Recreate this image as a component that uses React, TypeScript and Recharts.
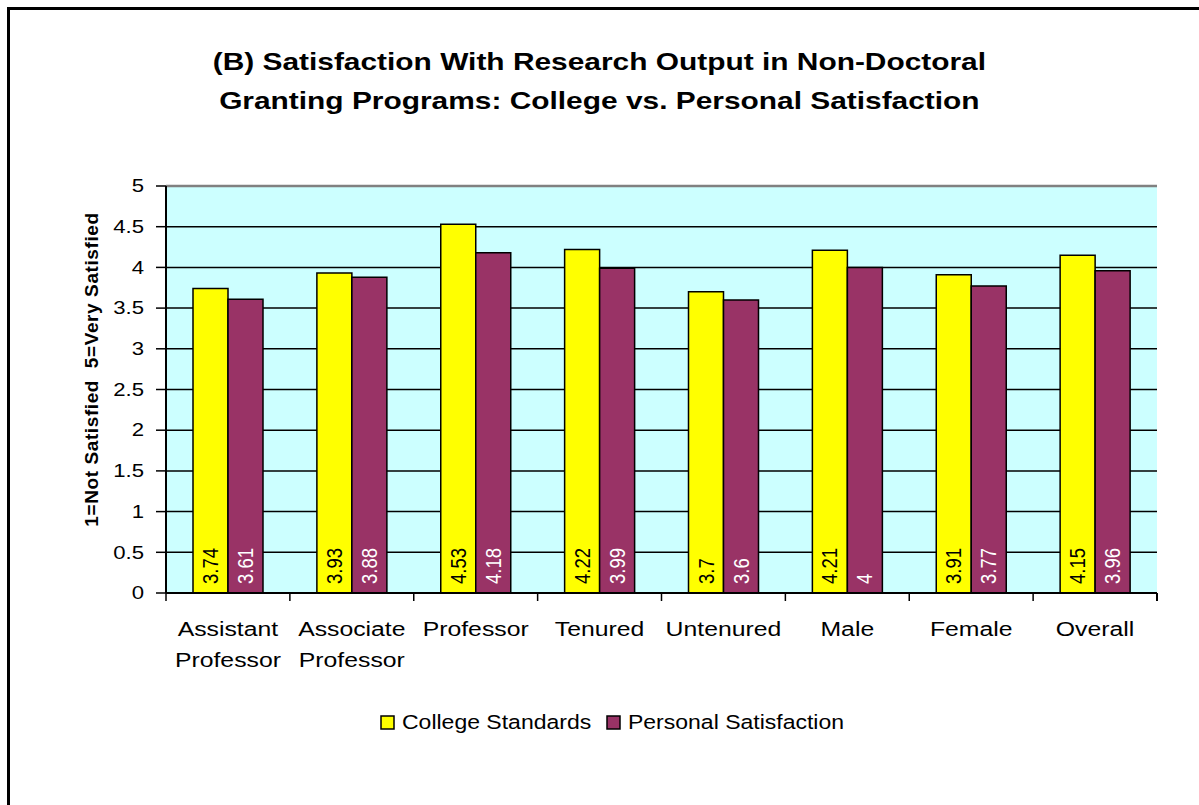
import React from 'react';
import { BarChart, Bar, XAxis, YAxis, CartesianGrid, Legend, LabelList, ReferenceLine } from 'recharts';

const categories = [
  'Assistant Professor',
  'Associate Professor',
  'Professor',
  'Tenured',
  'Untenured',
  'Male',
  'Female',
  'Overall',
];
const collegeStandards = [3.74, 3.93, 4.53, 4.22, 3.7, 4.21, 3.91, 4.15];
const personalSatisfaction = [3.61, 3.88, 4.18, 3.99, 3.6, 4, 3.77, 3.96];
const yTicks = [0, 0.5, 1, 1.5, 2, 2.5, 3, 3.5, 4, 4.5, 5];
const seriesNames = ['College Standards', 'Personal Satisfaction'];
const titleLines = [
  '(B) Satisfaction With Research Output in Non-Doctoral',
  'Granting Programs: College vs. Personal Satisfaction',
];
const yAxisTitle = '1=Not Satisfied\u00a0\u00a05=Very Satisfied';

const data = categories.map((c, i) => ({
  category: c,
  college: collegeStandards[i],
  personal: personalSatisfaction[i],
}));

const FONT = '"Liberation Sans", Arial, sans-serif';
const YELLOW = '#FFFF00';
const MAROON = '#993366';
const SX = 1.2;

const YTick = (props: any) => {
  const { x, y, payload } = props;
  return (
    <text
      transform={`translate(${x},${y}) scale(1.23,1)`}
      textAnchor="end"
      dominantBaseline="central"
      fontFamily={FONT}
      fontSize={18}
      fill="#000"
    >
      {String(payload.value)}
    </text>
  );
};

const XTick = (props: any) => {
  const { x, y, payload, index, width, visibleTicksCount } = props;
  const count = visibleTicksCount || categories.length;
  const half =
    payload && typeof payload.offset === 'number' && payload.offset > 0
      ? payload.offset
      : Number(width) / count / 2;
  const lines = String(payload.value).split(' ');
  const isLast = index === count - 1;
  return (
    <g>
      <line x1={x - half} x2={x - half} y1={y} y2={y + 8} stroke="#000" strokeWidth={1.5} />
      {isLast && <line x1={x + half} x2={x + half} y1={y} y2={y + 8} stroke="#000" strokeWidth={2} />}
      {lines.map((ln, i) => (
        <text
          key={i}
          transform={`translate(${x},${y + 43 + i * 31}) scale(1.18,1)`}
          textAnchor="middle"
          fontFamily={FONT}
          fontSize={21}
          fill="#000"
        >
          {ln}
        </text>
      ))}
    </g>
  );
};

const makeValueLabel = (color: string) => (props: any) => {
  const { x, y, width, height, value } = props;
  const cx = Number(x) + Number(width) / 2;
  const by = Number(y) + Number(height) - 9;
  return (
    <text
      transform={`translate(${cx},${by}) scale(${SX},1) rotate(-90)`}
      textAnchor="start"
      dominantBaseline="central"
      fontFamily={FONT}
      fontSize={18.5}
      fill={color}
    >
      {String(value)}
    </text>
  );
};

const YLabel = (props: any) => {
  const vb = props.viewBox || { x: 106, y: 186, width: 60, height: 407 };
  const cx = 91;
  const cy = vb.y + vb.height / 2 - 20;
  return (
    <text
      transform={`translate(${cx},${cy}) rotate(-90)`}
      textAnchor="middle"
      dominantBaseline="central"
      fontFamily={FONT}
      fontWeight="bold"
      fontSize={19}
      letterSpacing={0.6}
      fill="#000"
    >
      {yAxisTitle}
    </text>
  );
};

const LegendContent = () => {
  const items = [
    { name: seriesNames[0], color: YELLOW, rx: 381, tx: 402 },
    { name: seriesNames[1], color: MAROON, rx: 607, tx: 628 },
  ];
  return (
    <svg width={1199} height={34} style={{ display: 'block' }}>
      {items.map((it) => (
        <g key={it.name}>
          <rect x={it.rx} y={11} width={13} height={13} fill={it.color} stroke="#000" strokeWidth={1.5} />
          <text
            transform={`translate(${it.tx},24) scale(1.18,1)`}
            fontFamily={FONT}
            fontSize={19.5}
            fill="#000"
          >
            {it.name}
          </text>
        </g>
      ))}
    </svg>
  );
};

export default function App() {
  return (
    <div
      style={{
        position: 'absolute',
        left: 0,
        top: 0,
        width: 1199,
        height: 805,
        overflow: 'hidden',
        background: '#fff',
        fontFamily: FONT,
      }}
    >
      <BarChart
        width={1199}
        height={805}
        data={data}
        margin={{ top: 186, right: 42, left: 106, bottom: 182 }}
        barGap={0}
        barSize={35}
      >
        <CartesianGrid vertical={false} stroke="#000" strokeWidth={1.5} fill="#CCFFFF" fillOpacity={1} />
        <XAxis
          xAxisId="edge"
          type="number"
          domain={[0, categories.length]}
          allowDataOverflow
          hide
        />
        <XAxis
          dataKey="category"
          tickLine={false}
          tickSize={0}
          tickMargin={0}
          axisLine={{ stroke: '#000', strokeWidth: 2 }}
          height={30}
          interval={0}
          tick={<XTick />}
        />
        <YAxis
          domain={[0, 5]}
          ticks={yTicks}
          interval={0}
          width={60}
          tickSize={10}
          tickMargin={12}
          axisLine={{ stroke: '#000', strokeWidth: 2 }}
          tickLine={{ stroke: '#000', strokeWidth: 1.5 }}
          tick={<YTick />}
          label={<YLabel />}
        />
        <ReferenceLine y={5} stroke="#808080" strokeWidth={2.5} />
        <ReferenceLine x={categories.length} xAxisId="edge" stroke="#808080" strokeWidth={2.5} />
        <Legend
          verticalAlign="middle"
          align="center"
          layout="horizontal"
          wrapperStyle={{ top: 705, left: 0, width: 1199, height: 34 }}
          content={<LegendContent />}
        />
        <Bar dataKey="college" name={seriesNames[0]} fill={YELLOW} stroke="#000" strokeWidth={1.5} isAnimationActive={false}>
          <LabelList dataKey="college" content={makeValueLabel('#000')} />
        </Bar>
        <Bar dataKey="personal" name={seriesNames[1]} fill={MAROON} stroke="#000" strokeWidth={1.5} isAnimationActive={false}>
          <LabelList dataKey="personal" content={makeValueLabel('#fff')} />
        </Bar>
      </BarChart>
      <div
        style={{
          position: 'absolute',
          left: 0,
          top: 42,
          width: 1199,
          textAlign: 'center',
          fontWeight: 'bold',
          fontSize: 24,
          lineHeight: '39px',
          fontFamily: FONT,
          color: '#000',
          transform: 'scaleX(1.245)',
          transformOrigin: '600px 0',
          pointerEvents: 'none',
        }}
      >
        {titleLines.map((t) => (
          <div key={t}>{t}</div>
        ))}
      </div>
      <div
        style={{
          position: 'absolute',
          left: 7,
          top: 7,
          width: 1300,
          height: 900,
          border: '3px solid #000',
          pointerEvents: 'none',
        }}
      />
    </div>
  );
}
